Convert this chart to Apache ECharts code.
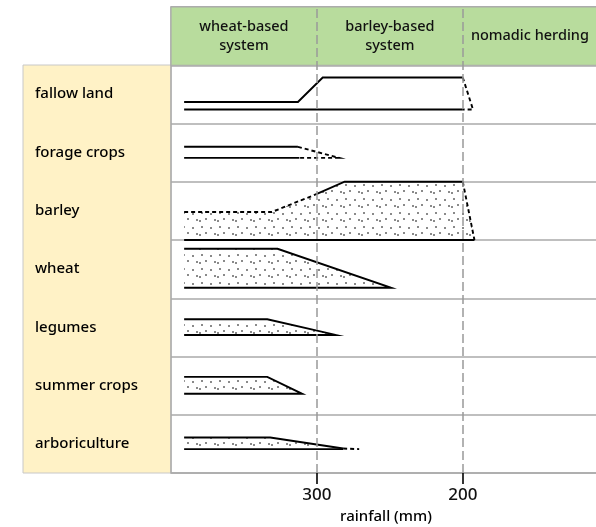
<!DOCTYPE html>
<html lang="en">
<head>
<meta charset="UTF-8">
<title>Crops and rainfall</title>
<script src="https://cdn.jsdelivr.net/npm/echarts@6/dist/echarts.min.js"></script>
<style>
  html, body { margin: 0; padding: 0; background: #fff; }
  #chart { width: 596px; height: 527px; }
</style>
</head>
<body>
<div id="chart"></div>
<script>
// rows, top to bottom
const crops = ['fallow land', 'forage crops', 'barley', 'wheat', 'legumes', 'summer crops', 'arboriculture'];
// header cells and their borders in mm of rainfall
const systems = ['wheat-based\nsystem', 'barley-based\nsystem', 'nomadic herding'];
const systemBounds = [400, 300, 200, 108];
const rainTicks = [300, 200];

// outlines: [rainfall mm, height inside the row 0..1]
const fallowSolid = [[[391, 0.37], [313, 0.37], [296, 0.79], [200, 0.79]], [[391, 0.24], [200, 0.24]]];
const fallowDashed = [[[200, 0.79], [193, 0.24], [200, 0.24]]];

const forageSolid = [[[391, 0.60], [313, 0.60]], [[391, 0.41], [312, 0.41]]];
const forageDashed = [[[313, 0.60], [285, 0.41], [312, 0.41]]];

const barleySolid = [[[300, 0.79], [281, 1.0], [200, 1.0]], [[391, 0], [192, 0]]];
const barleyDashed = [[[391, 0.48], [331, 0.48], [300, 0.79]], [[200, 1.0], [192, 0]]];
const barleyFill = [[391, 0.48], [331, 0.48], [300, 0.79], [281, 1.0], [200, 1.0], [192, 0], [391, 0]];

const wheatSolid = [[[391, 0.85], [327, 0.85], [249, 0.18], [391, 0.18]]];
const legumesSolid = [[[391, 0.64], [334, 0.64], [287, 0.37], [391, 0.37]]];
const summerSolid = [[[391, 0.65], [334, 0.65], [310, 0.36], [391, 0.36]]];

const arborSolid = [[[391, 0.61], [332, 0.61], [282, 0.42]], [[391, 0.41], [282, 0.41]]];
const arborDashed = [[[282, 0.42], [271, 0.41]]];
const arborFill = [[391, 0.61], [332, 0.61], [282, 0.42], [282, 0.41], [391, 0.41]];

const cropShapes = [
    {solid: fallowSolid, dashed: fallowDashed, fill: null},
    {solid: forageSolid, dashed: forageDashed, fill: null},
    {solid: barleySolid, dashed: barleyDashed, fill: barleyFill},
    {solid: wheatSolid, dashed: [], fill: wheatSolid[0]},
    {solid: legumesSolid, dashed: [], fill: legumesSolid[0]},
    {solid: summerSolid, dashed: [], fill: summerSolid[0]},
    {solid: arborSolid, dashed: arborDashed, fill: arborFill}
];

// dotted fill
const tile = document.createElement('canvas');
tile.width = 18;
tile.height = 14;
const tctx = tile.getContext('2d');
tctx.fillStyle = '#8a8a8a';
[[3, 2], [12, 3], [7, 8], [16, 9], [1, 10]].forEach(function (d) {
    tctx.fillRect(d[0], d[1], 2, 2);
});
const dotPattern = {image: tile, repeat: 'repeat'};

function renderCrop(params, api) {
    const i = params.dataIndex;
    const shape = cropShapes[i];
    const base = crops.length - 1 - i;
    const pt = function (p) { return api.coord([p[0], base + p[1]]); };
    const children = [];
    if (shape.fill) {
        children.push({type: 'polygon', shape: {points: shape.fill.map(pt)}, style: {fill: dotPattern}});
    }
    shape.solid.forEach(function (l) {
        children.push({type: 'polyline', shape: {points: l.map(pt)},
            style: {stroke: '#000', lineWidth: 1.9, fill: null}});
    });
    shape.dashed.forEach(function (l) {
        children.push({type: 'polyline', shape: {points: l.map(pt)},
            style: {stroke: '#000', lineWidth: 1.9, lineDash: [4, 3], fill: null}});
    });
    return {type: 'group', children: children};
}

// header cells
const headerAreas = [[
    {xAxis: systemBounds[0], yAxis: 7, itemStyle: {color: '#b8dc9d', borderColor: '#aaa', borderWidth: 1.2}},
    {xAxis: systemBounds[3], yAxis: 8}
]];
systems.forEach(function (s, i) {
    headerAreas.push([
        {name: s, xAxis: systemBounds[i], yAxis: 7, itemStyle: {color: 'transparent', borderWidth: 0}},
        {xAxis: systemBounds[i + 1], yAxis: 8}
    ]);
});

const chart = echarts.init(document.getElementById('chart'));
chart.setOption({
    animation: false,
    textStyle: {fontFamily: 'Noto Sans', fontWeight: 500},
    grid: [
        {left: 23, top: 65, width: 148, height: 408, show: true, backgroundColor: '#fff2c6',
            borderColor: '#c8c8c8', borderWidth: 1, outerBoundsMode: 'none', containLabel: false},
        {left: 171, top: 7, right: -1, height: 466, show: true, backgroundColor: 'transparent',
            borderColor: '#aaa', borderWidth: 1.5, outerBoundsMode: 'none', containLabel: false}
    ],
    xAxis: [
        {gridIndex: 0, type: 'value', show: false},
        {
            gridIndex: 1, type: 'value', inverse: true, min: 108, max: 400,
            axisLine: {show: false},
            splitLine: {show: false},
            axisTick: {show: true, customValues: rainTicks, length: 11, lineStyle: {color: '#000', width: 1.6}},
            axisLabel: {customValues: rainTicks, fontSize: 17, color: '#111', fontWeight: 500, margin: 14},
            name: 'rainfall (mm)', nameLocation: 'middle', nameGap: 36,
            nameTextStyle: {fontSize: 15, color: '#000', fontWeight: 500, padding: [0, 0, 0, 4]}
        }
    ],
    yAxis: [
        {
            gridIndex: 0, type: 'category', data: crops, inverse: true,
            axisLine: {show: false}, axisTick: {show: false}, splitLine: {show: false},
            axisLabel: {inside: true, margin: 12, fontSize: 15, color: '#000', fontWeight: 500}
        },
        {
            gridIndex: 1, type: 'value', min: 0, max: 8, interval: 1,
            axisLine: {show: false}, axisTick: {show: false}, axisLabel: {show: false},
            splitLine: {show: true, lineStyle: {color: '#aaa', width: 1.5}}
        }
    ],
    series: [{
        type: 'custom',
        xAxisIndex: 1,
        yAxisIndex: 1,
        data: crops.map(function (c, i) { return [i]; }),
        renderItem: renderCrop,
        silent: true,
        markArea: {
            silent: true,
            label: {show: true, position: 'inside', color: '#111', fontSize: 14.5, fontWeight: 500,
                lineHeight: 19, align: 'center'},
            data: headerAreas
        },
        markLine: {
            silent: true,
            symbol: ['none', 'none'],
            label: {show: false},
            lineStyle: {color: '#999', width: 1.5, type: [9, 4]},
            data: rainTicks.map(function (v) { return {xAxis: v}; })
        }
    }]
});
</script>
</body>
</html>
